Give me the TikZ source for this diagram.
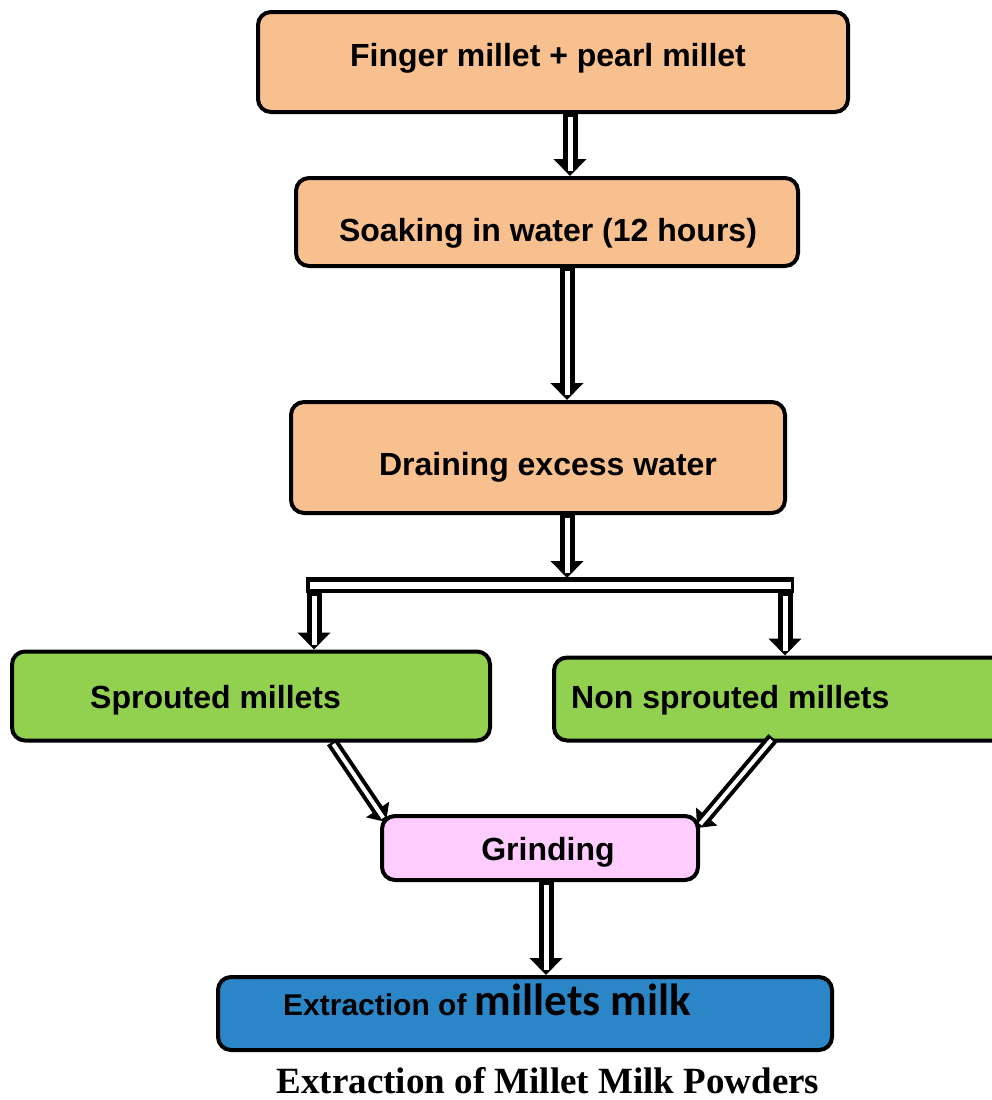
\documentclass[tikz,border=0pt]{standalone}
\usepackage{fontspec}
\setmainfont{Liberation Sans}
\newfontfamily\calfont{Carlito}
\newfontfamily\capfont{Liberation Serif}
\usetikzlibrary{arrows.meta,calc}

\tikzset{
  box/.style={draw=black, line width=4pt, rounded corners=13pt, inner sep=0pt},
  orangebox/.style={box, fill=boxorange},
  greenbox/.style={box, fill=boxgreen},
  lbl/.style={inner sep=0pt, anchor=base, font=\bfseries\fontsize{32}{38}\selectfont},
  shaftout/.style={draw=black, line width=15pt, -{Triangle[length=17pt,width=32pt]}},
  shaftin/.style={draw=white, line width=5pt, shorten <=2.5pt, shorten >=5pt},
  thinout/.style={draw=black, line width=12pt, -{Triangle[length=15pt,width=27pt]}},
  thinin/.style={draw=white, line width=4pt, shorten <=2.5pt, shorten >=5pt},
}
\definecolor{boxorange}{HTML}{F8BF8F}
\definecolor{boxgreen}{HTML}{92D050}
\definecolor{boxpink}{HTML}{FFCCFF}
\definecolor{boxblue}{HTML}{2B86C8}

% hollow double-walled arrow: #1 outer style, #2 inner style, #3 start, #4 end
\newcommand\hollowarrow[4]{%
  \draw[#1] (#3) -- (#4);
  \draw[#2] (#3) -- (#4);
}

\begin{document}
\begin{tikzpicture}[x=1pt, y=-1pt]
\useasboundingbox (0,0) rectangle (992,1100);
\clip (0,0) rectangle (992,1100);

% process boxes
\node[orangebox, minimum width=590pt, minimum height=100pt] (b1) at (553,62) {};
\node[orangebox, minimum width=502pt, minimum height=88pt] (b2) at (547,222) {};
\node[orangebox, minimum width=494pt, minimum height=111pt] (b3) at (538,457.5) {};
\node[greenbox, minimum width=478pt, minimum height=89pt] (b4) at (251,696) {};
\node[greenbox, minimum width=456pt, minimum height=83pt] (b5) at (782,699) {};
\node[box, fill=boxpink, minimum width=316pt, minimum height=64pt] (b6) at (540,848) {};
\node[box, fill=boxblue, minimum width=614pt, minimum height=73pt] (b7) at (525,1013.5) {};

% box labels
\node[lbl] (t1) at (548,66) {Finger millet + pearl millet};
\node[lbl] (t2) at (548,241) {Soaking in water (12 hours)};
\node[lbl] (t3) at (548,475) {Draining excess water};
\node[lbl, anchor=base west] (t4) at (90,708) {Sprouted millets};
\node[lbl, anchor=base west] (t5) at (571,708) {Non sprouted millets};
\node[lbl] (t6) at (548,860) {Grinding};
\node[inner sep=0pt, anchor=base west] (t7) at (283,1015)
  {\bfseries\fontsize{30}{34}\selectfont Extraction of \calfont\fontsize{45}{50}\selectfont millets milk};

% caption
\node[inner sep=0pt, anchor=base] (cap) at (548,1093)
  {\capfont\bfseries\fontsize{37}{42}\selectfont Extraction of Millet Milk Powders};

% arrow columns and the split bar
\coordinate (c1) at (570,0);
\coordinate (c2) at (567,0);
\coordinate (cg) at (546,0);
\coordinate (barmid) at (567,578);
\coordinate (barL) at (306,585);
\coordinate (barR) at (794,585);
\coordinate (legL) at (314,593);
\coordinate (legR) at (785,593);
\coordinate (d1s) at (332,742);
\coordinate (d1e) at (386,822);
\coordinate (d2s) at (773,738);
\coordinate (d2e) at (697,828);

\hollowarrow{shaftout}{shaftin}{b1.south -| c1}{b2.north -| c1}
\hollowarrow{shaftout}{shaftin}{b2.south -| c2}{b3.north -| c2}
\hollowarrow{shaftout}{shaftin}{b3.south -| c2}{barmid}

% split bar
\draw[line width=16pt, black] (barL) -- (barR);
\draw[line width=7pt, white] ($(barL)+(3.5,0)$) -- ($(barR)+(-3.5,0)$);

\hollowarrow{shaftout}{shaftin}{legL}{b4.north -| legL}
\hollowarrow{shaftout}{shaftin}{legR}{b5.north -| legR}

% merging into the grinding step
\hollowarrow{thinout}{thinin}{d1s}{d1e}
\hollowarrow{thinout}{thinin}{d2s}{d2e}

\hollowarrow{shaftout}{shaftin}{b6.south -| cg}{b7.north -| cg}
\end{tikzpicture}
\end{document}
